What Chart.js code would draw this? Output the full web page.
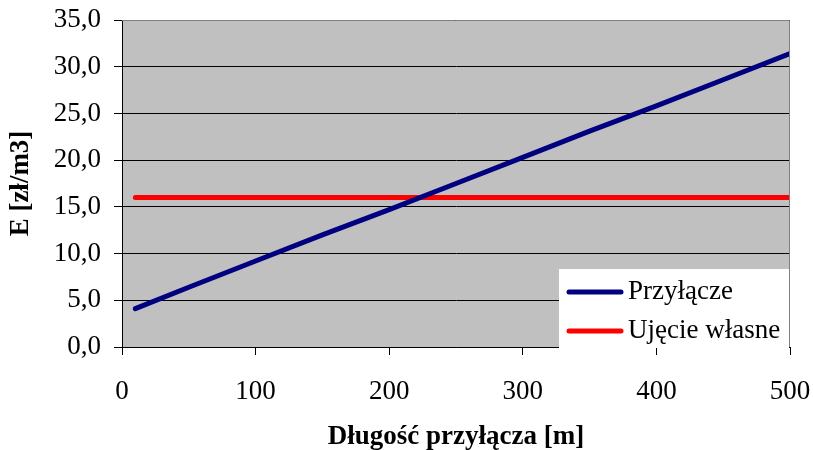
<!DOCTYPE html>
<html>
<head>
<meta charset="utf-8">
<script src="https://cdn.jsdelivr.net/npm/chart.js@4.4.1/dist/chart.umd.min.js"></script>
<style>
  html, body { margin: 0; padding: 0; background: #fff; }
  #wrap { width: 813px; height: 450px; position: relative; }
</style>
</head>
<body>
<div id="wrap"><canvas id="chart" width="813" height="450"></canvas></div>
<script>
// --- dane ---
const lengths = [10, 50, 100, 150, 200, 250, 300, 350, 400, 450, 500];
const przylacze = [4.1, 6.4, 9.2, 12.0, 14.7, 17.5, 20.3, 23.1, 25.8, 28.6, 31.4];
const ujecieWlasne = [16.0, 16.0, 16.0, 16.0, 16.0, 16.0, 16.0, 16.0, 16.0, 16.0, 16.0];
const seriesNames = ['Przyłącze', 'Ujęcie własne'];
const seriesColors = ['#000080', '#FF0000'];
const xTicks = [0, 100, 200, 300, 400, 500];
const yTicks = [0, 5, 10, 15, 20, 25, 30, 35];

const FONT = "'Liberation Serif', 'Times New Roman', serif";

// szare tło pola wykresu + ramka
const plotBg = {
    id: 'plotBg',
    beforeDraw(chart) {
        const a = chart.chartArea, ctx = chart.ctx;
        ctx.save();
        ctx.fillStyle = '#C0C0C0';
        ctx.fillRect(a.left, a.top, a.right - a.left, a.bottom - a.top);
        ctx.restore();
    },
    afterDatasetsDraw(chart) {
        const a = chart.chartArea, ctx = chart.ctx;
        ctx.save();
        ctx.strokeStyle = '#808080';
        ctx.lineWidth = 1;
        ctx.beginPath();
        ctx.moveTo(a.left, a.top + 0.5);
        ctx.lineTo(a.right - 0.5, a.top + 0.5);
        ctx.lineTo(a.right - 0.5, a.bottom);
        ctx.stroke();
        ctx.restore();
    }
};

// legenda w prawym dolnym rogu
const boxLegend = {
    id: 'boxLegend',
    afterDraw(chart) {
        const a = chart.chartArea, ctx = chart.ctx;
        const x0 = 559, y0 = 269;
        ctx.save();
        ctx.fillStyle = '#FFFFFF';
        ctx.fillRect(x0, y0, a.right - 1 - x0, a.bottom + 1 - y0);
        ctx.font = '27px ' + FONT;
        ctx.textBaseline = 'middle';
        chart.data.datasets.forEach((ds, i) => {
            const y = y0 + 23 + i * 39;
            ctx.strokeStyle = ds.borderColor;
            ctx.lineWidth = 5;
            ctx.lineCap = 'round';
            ctx.beginPath();
            ctx.moveTo(569, y);
            ctx.lineTo(621, y);
            ctx.stroke();
            ctx.fillStyle = '#000';
            ctx.fillText(ds.label, 628, y);
        });
        ctx.restore();
    }
};

const makeSeries = (ys) => lengths.map((x, i) => ({ x: x, y: ys[i] }));

new Chart(document.getElementById('chart'), {
    type: 'line',
    data: {
        datasets: [
            {
                label: seriesNames[0],
                data: makeSeries(przylacze),
                borderColor: seriesColors[0],
                borderWidth: 5,
                pointRadius: 0,
                tension: 0,
                borderCapStyle: 'round'
            },
            {
                label: seriesNames[1],
                data: makeSeries(ujecieWlasne),
                borderColor: seriesColors[1],
                borderWidth: 5,
                pointRadius: 0,
                tension: 0,
                borderCapStyle: 'round'
            }
        ]
    },
    options: {
        responsive: false,
        animation: false,
        layout: { padding: { left: 0, right: 23, top: 20, bottom: 0 } },
        plugins: {
            legend: { display: false },
            tooltip: { enabled: false }
        },
        scales: {
            x: {
                type: 'linear',
                min: 0,
                max: 500,
                afterBuildTicks: (s) => { s.ticks = xTicks.map(v => ({ value: v })); },
                afterFit: (s) => { s.height = 103; s.paddingLeft = 0; s.paddingRight = 0; },
                grid: { drawOnChartArea: false, drawTicks: true, tickLength: 8, color: '#000' },
                border: { color: '#000', width: 1 },
                ticks: { color: '#000', font: { family: FONT, size: 27 }, padding: 21, maxRotation: 0 },
                title: {
                    display: true,
                    text: 'Długość przyłącza [m]',
                    color: '#000',
                    font: { family: FONT, size: 27, weight: 'bold' },
                    padding: { top: 0, bottom: -3 }
                }
            },
            y: {
                min: 0,
                max: 35,
                afterBuildTicks: (s) => { s.ticks = yTicks.map(v => ({ value: v })); },
                afterFit: (s) => { s.width = 122; s.paddingTop = 0; s.paddingBottom = 0; },
                grid: { color: '#000', lineWidth: 1, drawTicks: true, tickLength: 8 },
                border: { color: '#000', width: 1 },
                ticks: {
                    color: '#000',
                    font: { family: FONT, size: 27 },
                    padding: 13,
                    callback: (v) => v.toFixed(1).replace('.', ',')
                },
                title: {
                    display: true,
                    text: 'E [zł/m3]',
                    color: '#000',
                    font: { family: FONT, size: 27, weight: 'bold' },
                    padding: { top: 5, bottom: 0 }
                }
            }
        }
    },
    plugins: [plotBg, boxLegend]
});
</script>
</body>
</html>
